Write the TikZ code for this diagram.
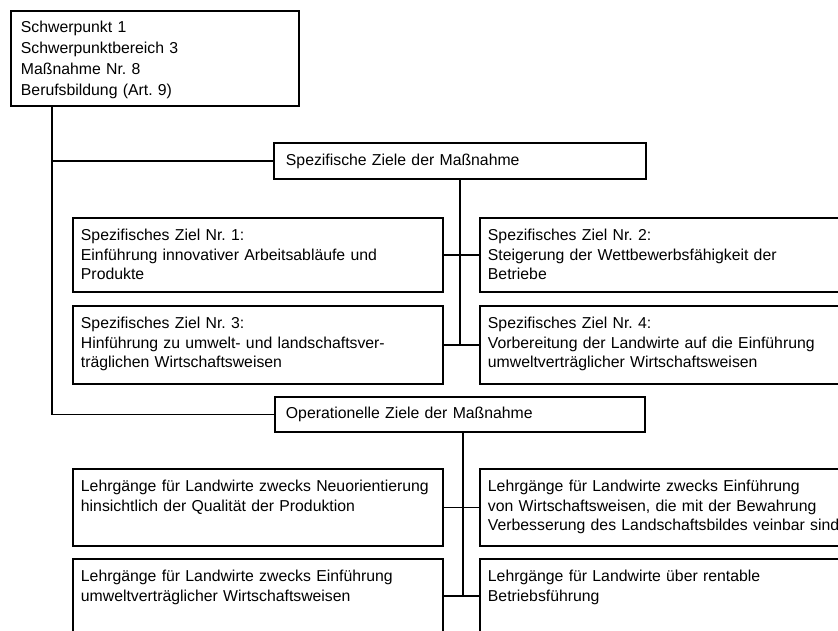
\documentclass[tikz,border=0pt]{standalone}
\usepackage{fontspec}
\setmainfont{Liberation Sans}
\frenchspacing

\begin{document}
\begin{tikzpicture}[x=1pt,y=-1pt,
  font=\fontsize{15.8}{19.5}\selectfont,
  kasten/.style={draw,line width=1.9pt,anchor=north west,align=left,
    inner xsep=8pt,inner ysep=0pt,text width=354pt,text height=23pt,text depth=51pt},
  kopf/.style={kasten,text width=268pt,inner xsep=10pt,text height=22pt,text depth=73pt,
    font=\fontsize{15.8}{20.7}\selectfont},
  titel/.style={draw,line width=1.9pt,anchor=north west,align=left,
    inner xsep=12pt,text width=348pt,minimum height=36pt},
  linie/.style={line width=1.5pt}]
\clip (0,0) rectangle (838,631);
\node[kopf] (kopf) at (10,10) {Schwerpunkt 1\\Schwerpunktbereich 3\\Maßnahme Nr. 8\\Berufsbildung (Art. 9)};
\node[titel] (spez) at (273,142) {Spezifische Ziele der Maßnahme};
\node[kasten] (z1) at (72,217) {Spezifisches Ziel Nr. 1:\\Einführung innovativer Arbeitsabläufe und\\Produkte};
\node[kasten] (z2) at (479,217) {Spezifisches Ziel Nr. 2:\\Steigerung der Wettbewerbsfähigkeit der\\Betriebe};
\node[kasten,text depth=55pt] (z3) at (72,305) {Spezifisches Ziel Nr. 3:\\Hinführung zu umwelt- und landschaftsver-\\träglichen Wirtschaftsweisen};
\node[kasten,text depth=55pt] (z4) at (479,305) {Spezifisches Ziel Nr. 4:\\Vorbereitung der Landwirte auf die Einführung\\umweltverträglicher Wirtschaftsweisen};
\node[titel,minimum height=35pt,inner xsep=11pt] (oper) at (274,396) {Operationelle Ziele der Maßnahme};
\node[kasten,text depth=54pt] (o5) at (72,468) {Lehrgänge für Landwirte zwecks Neuorientierung\\hinsichtlich der Qualität der Produktion};
\node[kasten,text depth=54pt] (o6) at (479,468) {Lehrgänge für Landwirte zwecks Einführung\\von Wirtschaftsweisen, die mit der Bewahrung\\Verbesserung des Landschaftsbildes veinbar sind};
\node[kasten] (o7) at (72,558) {Lehrgänge für Landwirte zwecks Einführung\\umweltverträglicher Wirtschaftsweisen};
\node[kasten] (o8) at (479,558) {Lehrgänge für Landwirte über rentable\\Betriebsführung};
% Verbindungen
\coordinate (stamm) at ([xshift=42pt]kopf.south west);
\coordinate (knoten) at ([xshift=3pt]oper.south);
\draw[line width=1.2pt] (stamm) |- (spez.west);
\draw[line width=1.2pt] (stamm) |- (oper.west);
\draw[linie] (spez.south) |- (z3.east);
\draw[linie] (z1.east) -- (z2.west);
\draw[linie] (z3.east) -- (z4.west);
\draw[linie] (knoten) |- (o7.east);
\draw[linie] (o5.east) -- (o6.west);
\draw[linie] (o7.east) -- (o8.west);
\end{tikzpicture}
\end{document}
